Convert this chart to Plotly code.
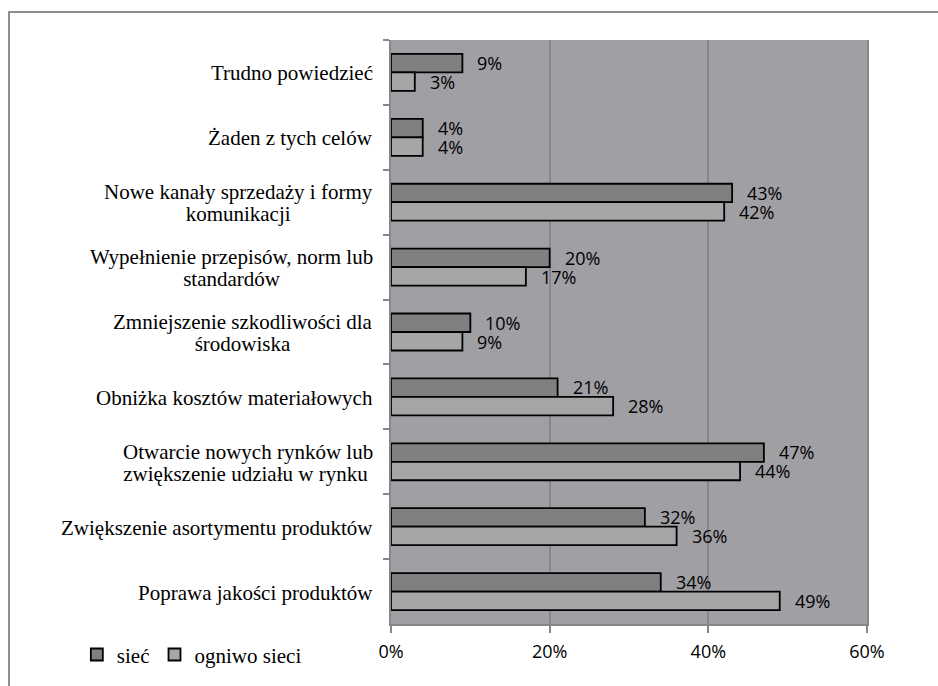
import plotly.graph_objects as go

# Categories listed top to bottom as shown on the chart
categories = [
    "Trudno powiedzieć",
    "Żaden z tych celów",
    "Nowe kanały sprzedaży i formy<br>komunikacji",
    "Wypełnienie przepisów, norm lub<br>standardów",
    "Zmniejszenie szkodliwości dla<br>środowiska",
    "Obniżka kosztów materiałowych",
    "Otwarcie nowych rynków lub<br>zwiększenie udziału w rynku ",
    "Zwiększenie asortymentu produktów",
    "Poprawa jakości produktów",
]
siec = [9, 4, 43, 20, 10, 21, 47, 32, 34]
ogniwo = [3, 4, 42, 17, 9, 28, 44, 36, 49]
x_ticks = [0, 20, 40, 60]

SERIF = "Liberation Serif, Times New Roman, serif"
SANS = "Open Sans, sans-serif"
GRID = "#87868b"

fig = go.Figure()
fig.add_trace(go.Bar(
    name="sieć", y=categories, x=[v / 100 for v in siec], orientation="h",
    marker=dict(color="#808080", line=dict(color="#000000", width=1.8)),
    hoverinfo="skip",
))
fig.add_trace(go.Bar(
    name="ogniwo sieci", y=categories, x=[v / 100 for v in ogniwo], orientation="h",
    marker=dict(color="#a6a6a6", line=dict(color="#000000", width=1.8)),
    hoverinfo="skip",
))

annotations = []
# value labels just past the end of each bar
for cat, a, b in zip(categories, siec, ogniwo):
    for val, dy in ((a, 9.5), (b, -9.5)):
        annotations.append(dict(
            x=val / 100, y=cat, xref="x", yref="y", text=f"{val}%",
            showarrow=False, xanchor="left", yanchor="middle",
            xshift=13, yshift=dy,
            font=dict(family=SANS, size=18, color="#000000"),
        ))
# category names, right aligned against the axis, lines centred;
# the base font size sets the (tighter) line spacing, spans set the glyph size
for cat in categories:
    text = "<br>".join(
        f'<span style="font-size:21px">{line}</span>' for line in cat.split("<br>")
    )
    annotations.append(dict(
        x=0, y=cat, xref="paper", yref="y", text=text,
        showarrow=False, xanchor="right", yanchor="middle", align="center",
        xshift=-16, yshift=-1,
        font=dict(family=SERIF, size=17, color="#000000"),
    ))

fig.update_layout(
    width=938, height=686,
    margin=dict(l=391, r=71, t=40, b=61),
    paper_bgcolor="#ffffff",
    plot_bgcolor="#a09fa4",
    barmode="group", bargap=0.43, bargroupgap=0,
    showlegend=True,
    legend=dict(
        orientation="h", x=-0.66, y=-0.051, xanchor="left", yanchor="middle",
        font=dict(family=SERIF, size=21, color="#000000"),
        bgcolor="rgba(0,0,0,0)", itemclick=False, tracegroupgap=0,
    ),
    xaxis=dict(
        range=[0, 0.6], tickvals=[t / 100 for t in x_ticks], tickformat=".0%",
        showgrid=True, gridcolor=GRID, gridwidth=2,
        showline=True, linecolor=GRID, linewidth=2,
        ticks="outside", ticklen=7, tickcolor=GRID, tickwidth=1.5,
        ticklabelstandoff=3,
        tickfont=dict(family=SANS, size=18, color="#000000"),
        zeroline=False, fixedrange=True,
    ),
    yaxis=dict(
        autorange="reversed", showticklabels=False,
        tickson="boundaries", ticks="outside", ticklen=6, tickcolor=GRID, tickwidth=1.5,
        showline=True, linecolor=GRID, linewidth=2, mirror=True,
        showgrid=False, zeroline=False, fixedrange=True,
    ),
    annotations=annotations,
    shapes=[dict(
        type="rect", xref="paper", yref="paper",
        x0=-0.8025, x1=1.2, y0=-0.15, y1=1.0479,
        line=dict(color="#8e8e8e", width=2), fillcolor="rgba(0,0,0,0)",
        layer="above",
    )],
)

fig.write_html("out.html", config={"displayModeBar": False})
